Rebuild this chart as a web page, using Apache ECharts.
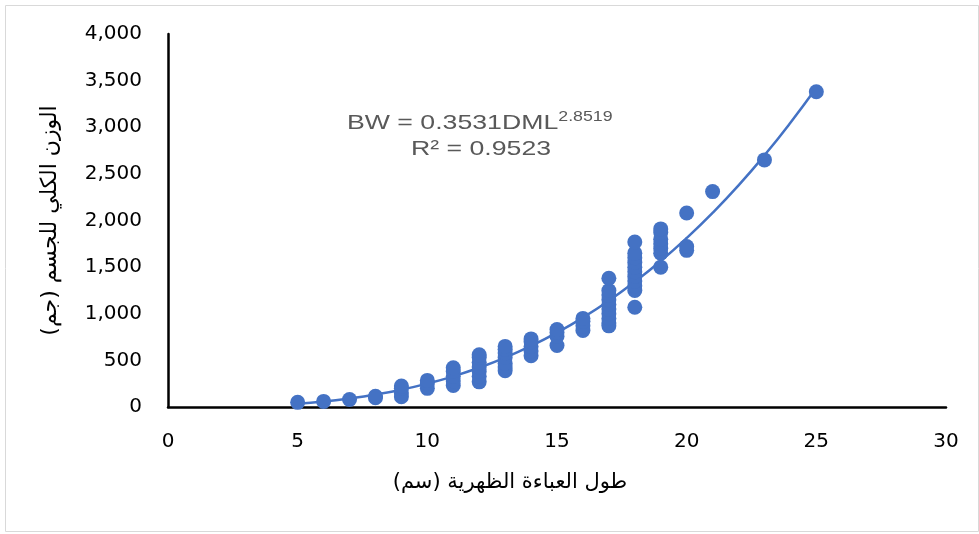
<!DOCTYPE html>
<html><head><meta charset="utf-8">
<script src="https://cdn.jsdelivr.net/npm/echarts@6/dist/echarts.min.js"></script>
<style>html,body{margin:0;padding:0;background:#fff}#c{width:979px;height:534px}</style>
</head><body><div id="c"></div>
<script>
// Observed data: DML (cm) and body weight (g)
const dmlX = [5,6,7,8,8,9,9,9,9,10,10,10,11,11,11,11,11,12,12,12,12,12,12,12,
  13,13,13,13,13,13,13,14,14,14,14,14,15,15,15,15,16,16,16,16,
  17,17,17,17,17,17,17,17,17,17,18,18,18,18,18,18,18,18,18,18,18,
  19,19,19,19,19,19,19,20,20,20,21,23,25];
const bwY = [50,60,80,100,115,110,150,200,225,200,250,285,230,280,330,380,420,270,330,380,430,480,530,560,
  390,430,470,530,580,620,650,550,600,650,700,730,660,760,800,830,820,870,920,950,
  870,900,950,1000,1050,1100,1150,1200,1250,1380,1070,1250,1300,1350,1400,1450,1500,1550,1600,1650,1770,
  1500,1650,1700,1750,1800,1870,1910,1680,1720,2080,2310,2650,3380];
// Power trendline
const trendX = [5,6,7,8,9,10,11,12,13,14,15,16,17,18,19,20,21,22,23,24,25];
const trendY = [35,58,91,133,186,251,329,422,530,655,798,959,1140,1342,1565,1812,2082,2377,2699,3048,3423];
const xTicks = [0,5,10,15,20,25,30];
const yTicks = [0,500,1000,1500,2000,2500,3000,3500,4000];
const eqMain = 'BW = 0.3531DML';
const eqExp = '2.8519';
const eqR2 = 'R² = 0.9523';
const xTitle = 'طول العباءة الظهرية (سم)';
const yTitle = 'الوزن الكلي للجسم (جم)';

const chart = echarts.init(document.getElementById('c'));
const lab = {color:'#000', fontSize:20, fontFamily:'"DejaVu Sans", sans-serif'};
const eqFont = '"Liberation Sans", Arial, sans-serif';
chart.setOption({
  animation:false,
  grid:{left:168, right:33, top:34, bottom:127, containLabel:false},
  xAxis:{type:'value', min:xTicks[0], max:xTicks[xTicks.length-1], interval:5,
    axisLine:{show:true, onZero:false, lineStyle:{color:'#000', width:2.5}},
    axisTick:{show:false}, splitLine:{show:false},
    axisLabel:Object.assign({margin:25}, lab)},
  yAxis:{type:'value', min:yTicks[0], max:yTicks[yTicks.length-1], interval:500,
    axisLine:{show:true, onZero:false, lineStyle:{color:'#000', width:2.5}},
    axisTick:{show:false}, splitLine:{show:false},
    axisLabel:Object.assign({margin:26, formatter:v=>v.toLocaleString('en-US')}, lab),
    name:yTitle, nameLocation:'middle', nameGap:107, nameRotate:90,
    nameTextStyle:{color:'#000', fontSize:22, fontFamily:'"DejaVu Sans", "Noto Sans", sans-serif'}},
  series:[
    {type:'scatter', data:dmlX.map((x,i)=>[x,bwY[i]]), symbolSize:15,
      itemStyle:{color:'#4472C4', opacity:1}, z:3},
    {type:'line', data:trendX.map((x,i)=>[x,trendY[i]]), smooth:true, showSymbol:false,
      lineStyle:{color:'#4472C4', width:2.5}, z:2}
  ],
  graphic:[
    {type:'rect', shape:{x:5.5,y:5.5,width:973,height:526}, style:{fill:'none', stroke:'#d9d9d9', lineWidth:1}, silent:true},
    {type:'text', x:347, y:110, scaleX:1.27, style:{
      text:'{m|'+eqMain+'}{s|'+eqExp+'}', rich:{
        m:{fontSize:21, fill:'#595959', fontFamily:eqFont, verticalAlign:'bottom'},
        s:{fontSize:14, fill:'#595959', fontFamily:eqFont, verticalAlign:'top', padding:[0,0,10,0]}
      }}},
    {type:'text', x:411, y:139, scaleX:1.27, style:{text:eqR2, fontSize:21, fill:'#595959', fontFamily:eqFont}},
    {type:'text', x:510, y:483, style:{text:xTitle, fontSize:21, fill:'#000', textAlign:'center', textVerticalAlign:'middle',
      fontFamily:'"DejaVu Sans", "Noto Sans", sans-serif'}}
  ]
});
</script></body></html>
